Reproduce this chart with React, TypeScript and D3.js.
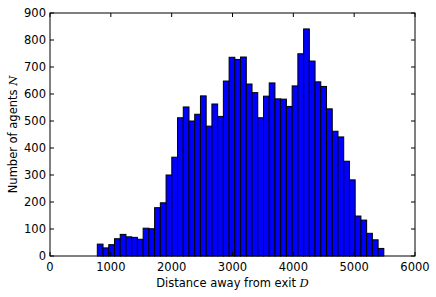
import React from "react";
import * as d3 from "d3";

const binStart = 777.6;
const binWidth = 94.2;
const counts = [
  44, 30, 42, 64, 80, 71, 69, 62, 103, 101,
  179, 197, 300, 366, 512, 552, 500, 525, 593, 481,
  563, 517, 648, 736, 728, 737, 637, 605, 512, 592,
  641, 582, 581, 554, 630, 749, 841, 722, 645, 628,
  545, 462, 441, 351, 282, 148, 133, 84, 60, 28,
];
const xTicks = [0, 1000, 2000, 3000, 4000, 5000, 6000];
const yTicks = [0, 100, 200, 300, 400, 500, 600, 700, 800, 900];

const W = 436;
const H = 297;
const m = { left: 50, right: 21, top: 13, bottom: 41 };
const font = "DejaVu Sans, sans-serif";

export default function App() {
  const x = d3.scaleLinear().domain([0, 6000]).range([m.left, W - m.right]);
  const y = d3.scaleLinear().domain([0, 900]).range([H - m.bottom, m.top]);
  const bins = counts.map((c, i) => ({ x0: binStart + i * binWidth, x1: binStart + (i + 1) * binWidth, c }));
  const tl = 4;
  return (
    <svg width={W} height={H} style={{ position: "absolute", left: 0, top: 0 }}>
      <rect width={W} height={H} fill="white" />
      {bins.map((b, i) => (
        <rect key={i} x={x(b.x0)} y={y(b.c)} width={x(b.x1) - x(b.x0)} height={y(0) - y(b.c)}
          fill="#0000ff" stroke="#000" strokeWidth={1} />
      ))}
      <rect x={m.left} y={m.top} width={W - m.left - m.right} height={H - m.top - m.bottom}
        fill="none" stroke="#000" strokeWidth={1} />
      {xTicks.map((t) => (
        <g key={t}>
          <line x1={x(t)} x2={x(t)} y1={y(0)} y2={y(0) - tl} stroke="#000" />
          <line x1={x(t)} x2={x(t)} y1={y(900)} y2={y(900) + tl} stroke="#000" />
          <text x={x(t)} y={y(0) + 15} textAnchor="middle" fontSize={11.5} fontFamily={font} fill="#000">{t}</text>
        </g>
      ))}
      {yTicks.map((t) => (
        <g key={t}>
          <line x1={x(0)} x2={x(0) + tl} y1={y(t)} y2={y(t)} stroke="#000" />
          <line x1={x(6000)} x2={x(6000) - tl} y1={y(t)} y2={y(t)} stroke="#000" />
          <text x={x(0) - 4} y={y(t) + 4} textAnchor="end" fontSize={11.5} fontFamily={font} fill="#000">{t}</text>
        </g>
      ))}
      <text x={(m.left + W - m.right) / 2} y={287} textAnchor="middle" fontSize={11.5} fontFamily={font} fill="#000">
        Distance away from exit <tspan fontFamily="DejaVu Serif, serif" fontStyle="italic">D</tspan>
      </text>
      <text transform={`translate(17,${(m.top + H - m.bottom) / 2}) rotate(-90)`} textAnchor="middle"
        fontSize={11.5} fontFamily={font} fill="#000">
        Number of agents <tspan fontFamily="DejaVu Serif, serif" fontStyle="italic">N</tspan>
      </text>
    </svg>
  );
}
